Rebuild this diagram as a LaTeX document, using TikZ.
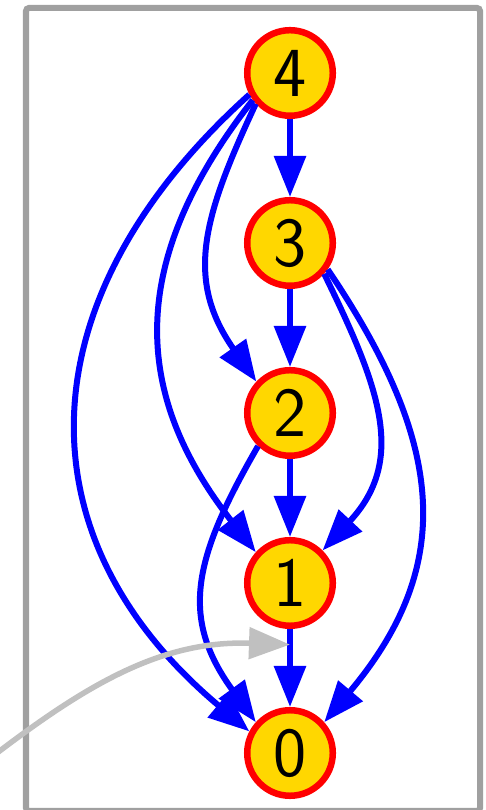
\documentclass[tikz,border=0pt]{standalone}
\usepackage{tikz}
\usetikzlibrary{arrows.meta}
\usetikzlibrary{calc}
\definecolor{arany}{HTML}{FFD700}
\definecolor{keret}{HTML}{A0A0A0}
\definecolor{mutato}{HTML}{C0C0C0}

\begin{document}
\begin{tikzpicture}[x=0.01cm,y=0.01cm,>={Triangle[length=0.41cm,width=0.31cm]},
csucs/.style={circle,draw=red,line width=0.065cm,fill=arany,minimum size=0.855cm,inner sep=0pt,
  font=\fontsize{20}{24}\sffamily},
el/.style={draw=blue,line width=0.06cm}]

\pgfmathsetmacro{\lepes}{170}

\useasboundingbox (0,0) rectangle (485,810);
\draw[keret, line width=0.06cm, rounded corners=0.03cm] (26,-1) rectangle (480,802);

\node[csucs](v0) at (290,57){0};
\node[csucs](v1) at (290,57+\lepes){1};
\node[csucs](v2) at (290,57+2*\lepes){2};
\node[csucs](v3) at (290,57+3*\lepes){3};
\node[csucs](v4) at (290,57+4*\lepes){4};

\begin{scope}[->, el]
\draw (v4)--(v3);
\draw (v3)--(v2);
\draw (v2)--(v1);
\draw (v1)--(v0);
\draw (v4.222) to[out=245, in=125, looseness=1.15] (v2.137);
\draw (v4.216) to[out=232, in=128, looseness=1.15] (v1.138);
\draw (v4.208) to[out=222, in=140, looseness=1.22] (v0.152);
\draw (v3.318) to[out=296, in=47, looseness=1.15] (v1.45);
\draw (v3.325) to[out=304, in=50, looseness=1.17] (v0.42);
\draw (v2.226) to[out=240, in=126, looseness=1.2] (v0.138);
\end{scope}

% a szurke mutato
\path (v1)--(v0) coordinate[pos=.2](kez);
\coordinate (kezdet) at (-25,40);
\draw[->, mutato, line width=0.055cm] (kezdet) to[out=38, in=178] (kez);
\end{tikzpicture}
\end{document}
